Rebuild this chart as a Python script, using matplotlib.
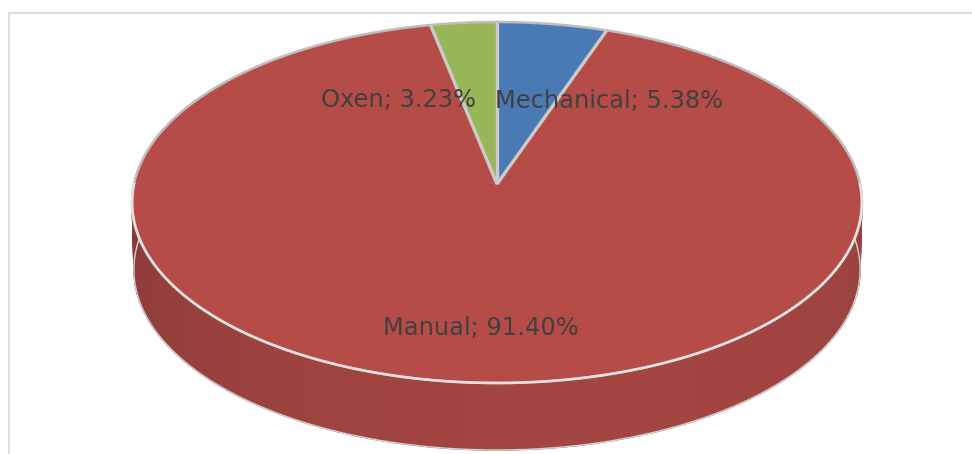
import numpy as np
import matplotlib
matplotlib.use('Agg')
import matplotlib.pyplot as plt

categories = ['Mechanical', 'Manual', 'Oxen']
shares = [5.38, 91.40, 3.23]
colors = ['#4a7ab6', '#b54c48', '#98b558']

# pixel geometry of the tilted disc
APEX_X, APEX_Y = 497, 184
HALF_W, TILT, PERSP = 363, 178.6, 0.1025
DEPTH = 67


def project(theta, depth=0.0, shrink=1.0):
    # theta is clockwise from 12 o'clock, perspective squeezes the far side
    u = np.sin(theta)
    v = np.cos(theta)
    denom = 1 + PERSP * v
    x = APEX_X + shrink * HALF_W * u / denom
    y = APEX_Y - TILT * v / denom + depth
    return x, y


def wall_color(theta):
    # darker towards the left, a little darker again at far right
    t = (theta - np.pi / 2) / np.pi
    left = np.array([0x8a, 0x3b, 0x39])
    mid = np.array([0xa3, 0x45, 0x41])
    right = np.array([0x95, 0x40, 0x3e])
    if t > 0.5:
        c = mid + (left - mid) * ((t - 0.5) / 0.5) ** 1.3
    else:
        c = mid + (right - mid) * ((0.5 - t) / 0.5) ** 3
    return c / 255


fig = plt.figure(figsize=(9.72, 4.54), dpi=100)
ax = fig.add_axes([0, 0, 1, 1])
ax.set_xlim(0, 972)
ax.set_ylim(454, 0)
ax.axis('off')

# chart frame
ax.plot([9, 9, 972], [454, 13, 13], color='#dcdcdc', lw=1.5, zorder=1)

# side wall, lower half of the disc
WALL_START, WALL_END = np.pi / 2 - 0.1, 3 * np.pi / 2 + 0.1
SHRINK = 0.995
edges = np.linspace(WALL_START, WALL_END, 70)
for a, b in zip(edges[:-1], edges[1:]):
    th = np.linspace(a, b, 4)
    x1, y1 = project(th)
    x2, y2 = project(th[::-1], DEPTH, SHRINK)
    c = wall_color((a + b) / 2)
    ax.fill(np.r_[x1, x2], np.r_[y1, y2], facecolor=c, edgecolor=c, lw=1.0, zorder=2)

th = np.linspace(WALL_START, WALL_END, 300)
x2, y2 = project(th, DEPTH, SHRINK)
ax.plot(x2, y2, color='#d2d2d2', lw=1.0, zorder=3)
x_edge, y_edge = project(np.array([WALL_START, WALL_END]))
for i in range(2):
    ax.plot([x_edge[i], x2[-i]], [y_edge[i], y2[-i]], color='#d2d2d2', lw=0.9, zorder=3)

# top face
fractions = np.array(shares) / sum(shares)
bounds = np.r_[0, np.cumsum(fractions)] * 2 * np.pi
for i in [1, 0, 2]:
    th = np.linspace(bounds[i], bounds[i + 1], 300)
    x, y = project(th)
    ax.fill(np.r_[APEX_X, x], np.r_[APEX_Y, y], facecolor=colors[i], lw=0, zorder=4)

# rim, greyer at the back and lighter at the front
th = np.linspace(0, 2 * np.pi, 500)
x, y = project(th)
ax.plot(x, y, color='#bdbdbd', lw=1.8, zorder=5)
th = np.linspace(WALL_START + 0.1, WALL_END - 0.1, 300)
x, y = project(th)
ax.plot(x, y, color='#e0e0e0', lw=1.9, zorder=5)

# dividers between the slices
for b in bounds[:-1]:
    rx, ry = project(np.array([b]))
    ax.plot([APEX_X, rx[0]], [APEX_Y, ry[0]], color='#cbcbcb', lw=2.4,
            solid_capstyle='butt', zorder=5)

# data labels
label_pos = [(495, 101), (383, 328), (321, 100)]
for name, val, (lx, ly) in zip(categories, shares, label_pos):
    ax.text(lx, ly, f'{name}; {val:.2f}%', fontsize=17.35, color='#404040',
            family='DejaVu Sans', ha='left', va='center', zorder=6)

fig.savefig('out.png', dpi=100)
